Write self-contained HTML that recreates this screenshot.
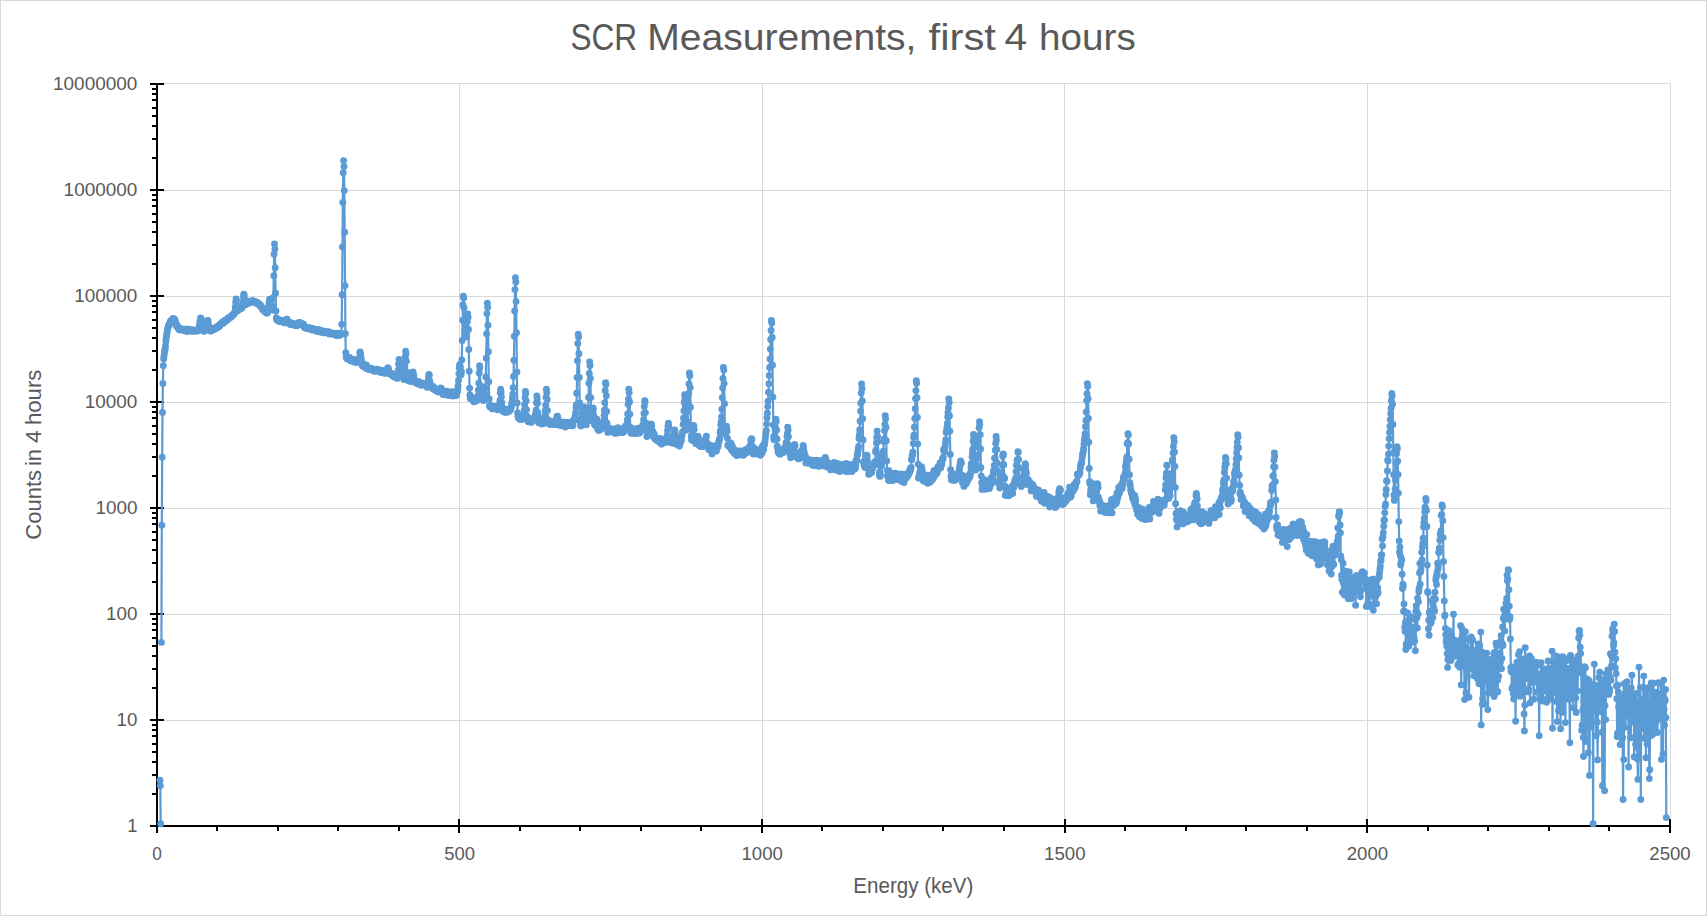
<!DOCTYPE html>
<html lang="en"><head><meta charset="utf-8"><title>SCR Measurements, first 4 hours</title>
<style>
html,body{margin:0;padding:0;background:#fff;overflow:hidden}
svg{display:block}
text{font-family:"Liberation Sans",Arial,sans-serif;fill:#595959}
.g{stroke:#d9d9d9;stroke-width:1;fill:none;shape-rendering:crispEdges}
.ax{stroke:#000;stroke-width:2;fill:none;shape-rendering:crispEdges}
.s{fill:none;stroke:#5b9bd5;stroke-width:2.2;stroke-linejoin:round;stroke-linecap:round;marker-start:url(#m);marker-mid:url(#m);marker-end:url(#m)}
.tl{font-size:17.6px}
.at{font-size:21.6px}
.tt{font-size:37.4px}
</style></head><body>
<svg width="1707" height="916" viewBox="0 0 1707 916">
<defs><marker id="m" markerUnits="userSpaceOnUse" markerWidth="8" markerHeight="8" refX="4" refY="4" viewBox="0 0 8 8"><circle cx="4" cy="4" r="3.45" fill="#5b9bd5"/></marker></defs>
<rect x="0" y="0" width="1707" height="916" fill="#fff"/>
<rect x="0.5" y="0.5" width="1706" height="915" fill="none" stroke="#d9d9d9" stroke-width="1" shape-rendering="crispEdges"/>
<path class="g" d="M157 83.5H1671M157 190.5H1671M157 296.5H1671M157 402.5H1671M157 508.5H1671M157 614.5H1671M157 720.5H1671M459.5 84V826M762.5 84V826M1064.5 84V826M1367.5 84V826M1670.5 84V826"/>
<path class="ax" d="M157 83V833M150 826H1671M150 84H164M152 158H157M152 139H157M152 126H157M152 116H157M152 108H157M152 100H157M152 94H157M152 89H157M150 190H164M152 264H157M152 245H157M152 232H157M152 222H157M152 214H157M152 206H157M152 200H157M152 195H157M150 296H164M152 370H157M152 351H157M152 338H157M152 328H157M152 320H157M152 312H157M152 306H157M152 301H157M150 402H164M152 476H157M152 457H157M152 444H157M152 434H157M152 426H157M152 418H157M152 412H157M152 407H157M150 508H164M152 582H157M152 563H157M152 550H157M152 540H157M152 532H157M152 524H157M152 518H157M152 513H157M150 614H164M152 688H157M152 669H157M152 656H157M152 646H157M152 638H157M152 630H157M152 624H157M152 619H157M150 720H164M152 794H157M152 775H157M152 762H157M152 752H157M152 744H157M152 736H157M152 730H157M152 725H157M150 826H164M157 819V833M217 826V831M278 826V831M338 826V831M399 826V831M459 819V833M520 826V831M580 826V831M641 826V831M701 826V831M762 819V833M822 826V831M883 826V831M943 826V831M1004 826V831M1065 819V833M1125 826V831M1186 826V831M1246 826V831M1307 826V831M1367 819V833M1428 826V831M1488 826V831M1549 826V831M1609 826V831M1670 819V833"/>
<polyline class="s" points="160.0,780.3 160.3,785.7 160.7,823.8"/>
<polyline class="s" points="161.4,642.4 161.8,525.3 162.2,457.2 162.5,412.4 162.9,383.5 163.3,365.8 163.7,358.9 164.0,355.9 164.4,353.0 164.8,350.7 165.1,349.2 165.5,346.3 165.9,341.3 166.2,338.2 166.6,335.4 167.0,332.8 167.3,330.8 167.7,328.8 168.1,327.2 168.5,326.0 168.8,325.8 169.2,324.4 169.6,324.2 169.9,323.0 170.3,321.7 170.7,321.6 171.0,321.2 171.4,320.6 171.8,320.2 172.1,320.9 172.5,319.4 172.9,318.6 173.3,318.7 173.6,319.1 174.0,319.0 174.4,320.2 174.7,319.8 175.1,321.2 175.5,321.9 175.8,323.2 176.2,325.0 176.6,326.3 177.0,325.5 177.3,327.1 177.7,326.3 178.1,327.8 178.4,327.9 178.8,328.8 179.2,329.2 179.5,329.9 179.9,329.1 180.3,329.5 180.6,329.0 181.0,329.2 181.4,329.6 181.8,329.8 182.1,329.9 182.5,329.0 182.9,329.5 183.2,329.5 183.6,330.0 184.0,329.8 184.3,329.6 184.7,330.7 185.1,329.5 185.4,329.6 185.8,329.2 186.2,329.4 186.6,329.3 186.9,331.5 187.3,330.5 187.7,330.6 188.0,330.7 188.4,329.3 188.8,329.8 189.1,330.2 189.5,330.3 189.9,329.9 190.3,330.6 190.6,331.1 191.0,330.1 191.4,330.0 191.7,331.2 192.1,330.0 192.5,330.6 192.8,330.6 193.2,330.5 193.6,330.3 193.9,330.9 194.3,330.1 194.7,331.1 195.1,330.4 195.4,330.5 195.8,330.7 196.2,330.5 196.5,331.1 196.9,331.0 197.3,329.9 197.6,330.5 198.0,330.6 198.4,330.2 198.8,329.8 199.1,327.0 199.5,324.9 199.9,322.1 200.2,320.3 200.6,317.9 201.0,318.6 201.3,320.3 201.7,324.3 202.1,327.8 202.4,330.2 202.8,329.7 203.2,330.0 203.6,331.2 203.9,329.9 204.3,330.6 204.7,329.9 205.0,330.9 205.4,329.8 205.8,329.3 206.1,329.5 206.5,328.4 206.9,325.6 207.2,322.1 207.6,320.4 208.0,320.9 208.4,323.7 208.7,326.7 209.1,327.6 209.5,329.9 209.8,329.7 210.2,329.4 210.6,331.0 210.9,330.9 211.3,330.2 211.7,329.8 212.1,329.2 212.4,329.4 212.8,329.6 213.2,329.6 213.5,328.9 213.9,328.3 214.3,329.1 214.6,328.9 215.0,328.9 215.4,327.6 215.7,328.4 216.1,328.1 216.5,327.8 216.9,327.2 217.2,327.3 217.6,326.4 218.0,327.2 218.3,326.7 218.7,326.0 219.1,326.8 219.4,325.3 219.8,325.5 220.2,324.2 220.5,324.1 220.9,323.9 221.3,323.7 221.7,323.8 222.0,323.0 222.4,322.3 222.8,322.9 223.1,322.9 223.5,322.8 223.9,321.8 224.2,321.9 224.6,321.1 225.0,320.2 225.4,320.9 225.7,320.1 226.1,320.1 226.5,319.9 226.8,320.5 227.2,319.5 227.6,318.9 227.9,318.6 228.3,318.5 228.7,317.6 229.0,318.1 229.4,317.7 229.8,317.4 230.2,317.6 230.5,317.3 230.9,316.4 231.3,316.4 231.6,316.2 232.0,315.5 232.4,315.4 232.7,315.1 233.1,314.6 233.5,314.6 233.9,314.2 234.2,313.4 234.6,312.8 235.0,311.6 235.3,307.3 235.7,302.4 236.1,298.9 236.4,300.4 236.8,305.0 237.2,308.9 237.5,310.4 237.9,310.6 238.3,309.7 238.7,309.7 239.0,309.2 239.4,309.3 239.8,309.1 240.1,308.3 240.5,308.1 240.9,308.3 241.2,308.2 241.6,307.3 242.0,307.9 242.3,306.3 242.7,305.8 243.1,301.9 243.5,297.0 243.8,294.1 244.2,295.0 244.6,299.3 244.9,303.0 245.3,304.3 245.7,304.2 246.0,304.6 246.4,303.7 246.8,303.1 247.2,303.3 247.5,302.9 247.9,303.1 248.3,302.8 248.6,302.7 249.0,302.9 249.4,302.7 249.7,301.3 250.1,302.4 250.5,301.9 250.8,301.8 251.2,301.9 251.6,301.8 252.0,301.4 252.3,300.9 252.7,300.6 253.1,301.1 253.4,301.3 253.8,301.3 254.2,302.2 254.5,301.4 254.9,302.0 255.3,302.1 255.6,301.7 256.0,302.7 256.4,302.5 256.8,302.5 257.1,303.3 257.5,303.8 257.9,303.9 258.2,303.3 258.6,303.7 259.0,304.1 259.3,305.0 259.7,304.7 260.1,305.7 260.5,305.2 260.8,306.2 261.2,306.5 261.6,307.4 261.9,307.8 262.3,309.0 262.7,308.6 263.0,309.6 263.4,309.9 263.8,310.6 264.1,310.7 264.5,311.3 264.9,311.2 265.3,311.5 265.6,311.8 266.0,312.4 266.4,312.6 266.7,313.0 267.1,313.1 267.5,312.8 267.8,311.3 268.2,309.0 268.6,306.5 269.0,303.1 269.3,300.9 269.7,299.3 270.1,300.5 270.4,301.3 270.8,303.9 271.2,305.8 271.5,305.4 271.9,306.4 272.3,308.0 272.6,310.0 273.0,309.8 273.4,297.5 273.8,275.7 274.1,254.2 274.5,244.0 274.9,249.1 275.2,267.8 275.6,293.2 276.0,310.9 276.3,318.0 276.7,319.6 277.1,319.9 277.4,319.7 277.8,320.6 278.2,319.4 278.6,320.5 278.9,319.9 279.3,321.5 279.7,321.0 280.0,320.0 280.4,321.2 280.8,320.9 281.1,321.1 281.5,321.3 281.9,320.9 282.3,320.9 282.6,321.1 283.0,321.0 283.4,321.7 283.7,321.8 284.1,322.4 284.5,322.9 284.8,322.6 285.2,322.3 285.6,322.1 285.9,321.4 286.3,320.4 286.7,319.1 287.1,319.3 287.4,321.4 287.8,322.6 288.2,322.9 288.5,322.3 288.9,322.9 289.3,323.1 289.6,322.8 290.0,324.2 290.4,322.8 290.7,323.0 291.1,324.6 291.5,324.0 291.9,323.7 292.2,323.7 292.6,323.8 293.0,324.4 293.3,323.5 293.7,323.6 294.1,324.7 294.4,324.7 294.8,324.9 295.2,325.4 295.6,324.6 295.9,324.8 296.3,325.5 296.7,325.5 297.0,324.8 297.4,325.2 297.8,325.1 298.1,323.8 298.5,323.6 298.9,322.6 299.2,322.6 299.6,322.5 300.0,323.1 300.4,324.5 300.7,324.7 301.1,324.1 301.5,324.8 301.8,324.0 302.2,324.0 302.6,324.3 302.9,324.0 303.3,324.5 303.7,325.0 304.1,325.4 304.4,327.4 304.8,326.9 305.2,327.8 305.5,327.6 305.9,328.2 306.3,327.4 306.6,327.5 307.0,328.1 307.4,327.7 307.7,328.8 308.1,327.8 308.5,327.7 308.9,328.7 309.2,328.7 309.6,328.5 310.0,328.5 310.3,328.7 310.7,328.4 311.1,328.2 311.4,329.1 311.8,328.1 312.2,329.7 312.5,330.1 312.9,329.2 313.3,329.9 313.7,329.6 314.0,329.4 314.4,329.5 314.8,329.3 315.1,329.6 315.5,329.9 315.9,330.0 316.2,330.2 316.6,331.2 317.0,330.4 317.4,330.7 317.7,331.0 318.1,329.4 318.5,330.7 318.8,331.0 319.2,331.1 319.6,331.2 319.9,330.2 320.3,330.7 320.7,331.4 321.0,332.2 321.4,331.3 321.8,331.3 322.2,331.2 322.5,331.1 322.9,331.6 323.3,332.3 323.6,332.3 324.0,332.7 324.4,331.3 324.7,332.8 325.1,332.2 325.5,332.4 325.9,332.2 326.2,332.6 326.6,331.9 327.0,332.3 327.3,332.0 327.7,332.8 328.1,332.6 328.4,331.8 328.8,333.5 329.2,333.8 329.5,333.0 329.9,333.9 330.3,332.8 330.7,333.9 331.0,333.3 331.4,332.9 331.8,333.6 332.1,333.6 332.5,333.4 332.9,333.9 333.2,333.5 333.6,333.8 334.0,334.0 334.3,334.1 334.7,334.5 335.1,334.5 335.5,334.4 335.8,333.3 336.2,335.2 336.6,335.5 336.9,334.9 337.3,334.7 337.7,334.7 338.0,333.3 338.4,333.9 338.8,334.8 339.2,334.8 339.5,335.3 339.9,334.1 340.3,334.9 340.6,334.5 341.0,333.5 341.4,333.4 341.7,324.2 342.1,294.8 342.5,246.9 342.8,202.5 343.2,172.8 343.6,160.6 344.0,166.5 344.3,190.6 344.7,232.2 345.1,285.6 345.4,333.7 345.8,352.8 346.2,357.5 346.5,356.4 346.9,358.8 347.3,357.9 347.6,357.8 348.0,358.4 348.4,358.2 348.8,358.2 349.1,358.2 349.5,357.4 349.9,360.1 350.2,359.9 350.6,359.6 351.0,360.9 351.3,359.2 351.7,360.9 352.1,360.2 352.5,360.3 352.8,360.6 353.2,359.5 353.6,361.3 353.9,361.8 354.3,359.8 354.7,361.4 355.0,361.3 355.4,362.2 355.8,362.3 356.1,361.7 356.5,360.5 356.9,362.0 357.3,361.8 357.6,361.2 358.0,361.4 358.4,361.0 358.7,361.8 359.1,360.0 359.5,357.7 359.8,353.0 360.2,352.0 360.6,354.2 361.0,357.8 361.3,359.9 361.7,362.6 362.1,365.4 362.4,364.2 362.8,364.5 363.2,364.5 363.5,366.7 363.9,364.4 364.3,365.6 364.6,364.7 365.0,366.5 365.4,366.2 365.8,366.5 366.1,368.4 366.5,365.3 366.9,367.3 367.2,368.2 367.6,368.1 368.0,368.3 368.3,369.1 368.7,369.0 369.1,369.6 369.4,369.3 369.8,368.4 370.2,369.6 370.6,368.3 370.9,369.2 371.3,369.1 371.7,369.1 372.0,369.3 372.4,369.9 372.8,370.1 373.1,369.3 373.5,371.1 373.9,369.1 374.3,370.2 374.6,371.1 375.0,369.8 375.4,370.1 375.7,369.6 376.1,369.6 376.5,371.3 376.8,370.0 377.2,369.3 377.6,369.8 377.9,370.0 378.3,370.8 378.7,370.4 379.1,370.3 379.4,370.9 379.8,371.1 380.2,371.0 380.5,371.6 380.9,372.4 381.3,370.2 381.6,372.4 382.0,372.4 382.4,372.5 382.7,371.7 383.1,372.2 383.5,372.2 383.9,372.9 384.2,372.3 384.6,371.5 385.0,373.3 385.3,372.2 385.7,372.3 386.1,372.9 386.4,371.3 386.8,372.3 387.2,370.4 387.6,368.4 387.9,367.6 388.3,368.6 388.7,370.7 389.0,373.1 389.4,373.5 389.8,373.1 390.1,373.7 390.5,373.3 390.9,373.7 391.2,373.5 391.6,374.1 392.0,374.9 392.4,375.5 392.7,375.2 393.1,374.3 393.5,376.0 393.8,376.8 394.2,374.2 394.6,375.6 394.9,376.4 395.3,376.7 395.7,376.9 396.1,377.5 396.4,376.4 396.8,377.6 397.2,378.4 397.5,376.9 397.9,373.0 398.3,370.2 398.6,364.1 399.0,359.5 399.4,362.0 399.7,366.9 400.1,373.7 400.5,376.1 400.9,375.7 401.2,373.6 401.6,368.3 402.0,364.7 402.3,365.4 402.7,371.1 403.1,375.4 403.4,377.8 403.8,379.6 404.2,377.2 404.5,372.9 404.9,366.6 405.3,357.0 405.7,351.1 406.0,354.1 406.4,361.2 406.8,371.9 407.1,377.1 407.5,379.8 407.9,379.1 408.2,380.5 408.6,379.9 409.0,380.5 409.4,380.0 409.7,380.6 410.1,380.5 410.5,381.2 410.8,381.4 411.2,380.8 411.6,380.7 411.9,378.7 412.3,377.5 412.7,374.5 413.0,372.0 413.4,374.1 413.8,375.6 414.2,379.1 414.5,380.3 414.9,381.7 415.3,381.9 415.6,382.0 416.0,381.4 416.4,383.2 416.7,382.6 417.1,382.0 417.5,382.8 417.8,381.7 418.2,384.1 418.6,383.2 419.0,381.8 419.3,382.7 419.7,383.8 420.1,382.6 420.4,384.2 420.8,383.7 421.2,385.2 421.5,383.8 421.9,384.0 422.3,384.1 422.7,384.0 423.0,383.3 423.4,384.3 423.8,383.7 424.1,383.6 424.5,383.9 424.9,384.1 425.2,385.3 425.6,385.0 426.0,384.5 426.3,384.2 426.7,384.6 427.1,387.2 427.5,385.1 427.8,384.1 428.2,380.8 428.6,376.9 428.9,374.4 429.3,375.2 429.7,381.0 430.0,383.1 430.4,385.7 430.8,386.4 431.2,387.4 431.5,386.3 431.9,388.1 432.3,387.4 432.6,386.1 433.0,388.1 433.4,389.0 433.7,387.5 434.1,388.0 434.5,389.4 434.8,388.4 435.2,389.2 435.6,390.0 436.0,389.7 436.3,390.7 436.7,390.7 437.1,391.0 437.4,391.1 437.8,389.5 438.2,392.0 438.5,390.8 438.9,390.3 439.3,391.2 439.6,391.3 440.0,391.8 440.4,390.6 440.8,388.0 441.1,388.7 441.5,389.0 441.9,390.3 442.2,390.5 442.6,392.5 443.0,394.4 443.3,392.4 443.7,393.5 444.1,393.2 444.5,394.5 444.8,394.5 445.2,392.0 445.6,391.9 445.9,394.1 446.3,393.5 446.7,391.2 447.0,394.0 447.4,395.2 447.8,393.2 448.1,392.8 448.5,394.3 448.9,392.3 449.3,394.4 449.6,392.2 450.0,395.6 450.4,393.8 450.7,394.1 451.1,392.8 451.5,395.3 451.8,395.3 452.2,391.7 452.6,395.2 452.9,396.1 453.3,393.8 453.7,394.6 454.1,394.4 454.4,395.3 454.8,395.6 455.2,393.6 455.5,395.4 455.9,395.0 456.3,395.2 456.6,394.9 457.0,391.9 457.4,391.5 457.8,389.0 458.1,385.8 458.5,380.4 458.9,373.9 459.2,368.1 459.6,364.7 460.0,365.8 460.3,367.6 460.7,373.2 461.1,374.7 461.4,371.6 461.8,359.9 462.2,340.4 462.6,320.2 462.9,305.0 463.3,296.2 463.7,298.0 464.0,307.9 464.4,321.6 464.8,330.9 465.1,331.2 465.5,327.9 465.9,329.6 466.3,334.9 466.6,336.7 467.0,330.9 467.4,321.4 467.7,314.0 468.1,317.3 468.5,329.5 468.8,349.5 469.2,371.3 469.6,388.3 469.9,394.9 470.3,398.5 470.7,397.5 471.1,397.1 471.4,398.8 471.8,397.5 472.2,398.9 472.5,399.1 472.9,398.1 473.3,399.0 473.6,401.7 474.0,400.1 474.4,400.7 474.7,399.2 475.1,401.0 475.5,399.4 475.9,399.5 476.2,401.1 476.6,400.1 477.0,399.0 477.3,399.3 477.7,399.5 478.1,395.5 478.4,390.1 478.8,383.3 479.2,372.9 479.6,365.7 479.9,367.8 480.3,387.2 480.7,387.2 481.0,390.3 481.4,389.9 481.8,386.5 482.1,388.9 482.5,393.4 482.9,398.3 483.2,400.6 483.6,400.3 484.0,399.6 484.4,398.9 484.7,397.7 485.1,394.4 485.5,388.4 485.8,377.0 486.2,358.3 486.6,333.7 486.9,313.6 487.3,303.1 487.7,307.2 488.0,325.2 488.4,351.8 488.8,381.8 489.2,398.9 489.5,405.5 489.9,407.1 490.3,406.0 490.6,406.8 491.0,406.3 491.4,405.7 491.7,406.3 492.1,406.6 492.5,408.9 492.9,407.2 493.2,406.4 493.6,408.0 494.0,408.4 494.3,407.9 494.7,408.1 495.1,408.8 495.4,406.6 495.8,407.0 496.2,407.3 496.5,408.6 496.9,409.0 497.3,409.6 497.7,409.8 498.0,407.2 498.4,407.3 498.8,407.1 499.1,405.7 499.5,404.4 499.9,400.4 500.2,393.1 500.6,389.2 501.0,391.9 501.4,396.8 501.7,402.8 502.1,407.1 502.5,408.9 502.8,411.3 503.2,409.0 503.6,409.2 503.9,411.5 504.3,409.6 504.7,410.2 505.0,409.9 505.4,412.6 505.8,409.3 506.2,409.5 506.5,410.5 506.9,410.0 507.3,410.9 507.6,410.4 508.0,412.1 508.4,410.2 508.7,411.0 509.1,410.8 509.5,410.5 509.8,410.6 510.2,409.4 510.6,409.6 511.0,407.6 511.3,406.6 511.7,404.1 512.1,402.3 512.4,398.1 512.8,394.3 513.2,387.7 513.5,376.4 513.9,360.3 514.3,336.3 514.7,310.9 515.0,289.6 515.4,277.6 515.8,281.9 516.1,301.6 516.5,332.7 516.9,371.9 517.2,402.9 517.6,413.0 518.0,416.1 518.3,417.2 518.7,417.9 519.1,418.5 519.5,416.4 519.8,417.2 520.2,419.4 520.6,418.0 520.9,419.2 521.3,418.8 521.7,417.8 522.0,418.8 522.4,419.2 522.8,417.9 523.1,417.3 523.5,414.9 523.9,415.6 524.3,410.1 524.6,404.8 525.0,397.6 525.4,391.4 525.7,393.5 526.1,400.9 526.5,409.6 526.8,416.0 527.2,419.6 527.6,419.0 528.0,421.4 528.3,421.5 528.7,418.8 529.1,420.3 529.4,418.6 529.8,420.6 530.2,419.4 530.5,419.5 530.9,419.3 531.3,422.4 531.6,419.2 532.0,421.1 532.4,420.2 532.8,419.4 533.1,419.0 533.5,420.1 533.9,418.9 534.2,419.0 534.6,417.8 535.0,416.1 535.3,416.0 535.7,413.7 536.1,410.3 536.5,402.7 536.8,396.0 537.2,398.6 537.6,403.2 537.9,412.7 538.3,417.3 538.7,422.8 539.0,422.6 539.4,419.5 539.8,421.9 540.1,420.6 540.5,420.3 540.9,422.4 541.3,423.1 541.6,424.0 542.0,420.8 542.4,420.8 542.7,420.1 543.1,419.8 543.5,418.8 543.8,423.5 544.2,420.2 544.6,419.9 544.9,415.4 545.3,410.6 545.7,405.3 546.1,397.5 546.4,389.2 546.8,392.4 547.2,399.5 547.5,410.6 547.9,419.7 548.3,422.0 548.6,423.5 549.0,423.3 549.4,423.2 549.8,422.4 550.1,424.6 550.5,422.8 550.9,423.3 551.2,423.0 551.6,421.8 552.0,423.7 552.3,421.9 552.7,422.0 553.1,424.3 553.4,421.9 553.8,424.0 554.2,423.9 554.6,423.2 554.9,424.2 555.3,424.0 555.7,424.6 556.0,423.1 556.4,419.7 556.8,418.6 557.1,416.5 557.5,416.3 557.9,418.2 558.2,421.2 558.6,423.4 559.0,422.7 559.4,425.2 559.7,423.9 560.1,422.7 560.5,422.1 560.8,423.0 561.2,424.1 561.6,423.3 561.9,425.7 562.3,423.6 562.7,422.3 563.1,425.2 563.4,423.3 563.8,424.4 564.2,424.1 564.5,423.3 564.9,423.7 565.3,427.0 565.6,422.2 566.0,422.5 566.4,424.2 566.7,425.2 567.1,425.7 567.5,424.6 567.9,425.1 568.2,424.2 568.6,424.3 569.0,424.3 569.3,425.2 569.7,422.1 570.1,423.2 570.4,423.5 570.8,422.8 571.2,424.8 571.6,425.7 571.9,425.3 572.3,423.1 572.7,423.0 573.0,425.4 573.4,420.7 573.8,420.5 574.1,419.8 574.5,419.8 574.9,417.8 575.2,415.6 575.6,413.0 576.0,407.8 576.4,404.8 576.7,393.3 577.1,377.5 577.5,360.8 577.8,343.5 578.2,334.2 578.6,337.0 578.9,353.8 579.3,377.4 579.7,402.9 580.0,419.8 580.4,422.7 580.8,425.9 581.2,425.3 581.5,424.4 581.9,421.7 582.3,423.4 582.6,420.4 583.0,419.2 583.4,415.5 583.7,411.7 584.1,406.9 584.5,408.6 584.9,415.0 585.2,418.1 585.6,422.1 586.0,422.4 586.3,424.7 586.7,418.5 587.1,416.9 587.4,417.4 587.8,411.3 588.2,408.2 588.5,397.5 588.9,383.3 589.3,373.4 589.7,361.9 590.0,365.5 590.4,378.4 590.8,397.6 591.1,412.9 591.5,420.6 591.9,420.2 592.2,416.6 592.6,412.0 593.0,407.9 593.3,409.3 593.7,415.2 594.1,421.2 594.5,423.9 594.8,425.0 595.2,425.0 595.6,423.1 595.9,419.4 596.3,419.8 596.7,419.1 597.0,422.8 597.4,426.9 597.8,429.6 598.2,429.7 598.5,428.9 598.9,430.6 599.3,427.7 599.6,427.4 600.0,427.6 600.4,427.2 600.7,429.2 601.1,429.1 601.5,428.5 601.8,425.7 602.2,426.8 602.6,424.5 603.0,424.9 603.3,422.5 603.7,420.6 604.1,415.5 604.4,410.2 604.8,402.7 605.2,390.4 605.5,382.7 605.9,384.5 606.3,395.7 606.7,411.4 607.0,423.3 607.4,429.2 607.8,432.4 608.1,427.4 608.5,429.3 608.9,431.3 609.2,429.4 609.6,428.5 610.0,431.3 610.3,429.7 610.7,431.1 611.1,430.6 611.5,430.3 611.8,430.0 612.2,430.6 612.6,430.7 612.9,432.1 613.3,429.0 613.7,430.6 614.0,429.8 614.4,431.7 614.8,431.0 615.1,433.4 615.5,430.4 615.9,432.9 616.3,430.4 616.6,431.1 617.0,428.6 617.4,429.7 617.7,432.4 618.1,427.7 618.5,430.7 618.8,431.1 619.2,431.7 619.6,432.8 620.0,431.0 620.3,430.2 620.7,431.3 621.1,431.1 621.4,429.3 621.8,430.8 622.2,432.5 622.5,432.6 622.9,429.9 623.3,431.9 623.6,430.4 624.0,428.9 624.4,429.5 624.8,429.1 625.1,426.5 625.5,430.2 625.9,426.3 626.2,425.9 626.6,426.0 627.0,424.9 627.3,420.0 627.7,413.9 628.1,404.3 628.5,398.9 628.8,389.2 629.2,392.7 629.6,401.8 629.9,414.1 630.3,427.4 630.7,429.5 631.0,433.2 631.4,431.8 631.8,429.2 632.1,428.8 632.5,431.7 632.9,431.3 633.3,432.9 633.6,430.5 634.0,429.0 634.4,433.5 634.7,429.7 635.1,430.9 635.5,432.5 635.8,429.7 636.2,429.6 636.6,432.0 636.9,433.4 637.3,430.5 637.7,431.5 638.1,428.3 638.4,430.0 638.8,430.0 639.2,430.9 639.5,433.1 639.9,429.3 640.3,431.8 640.6,429.6 641.0,430.3 641.4,429.6 641.8,429.6 642.1,427.8 642.5,426.6 642.9,425.3 643.2,424.7 643.6,419.8 644.0,413.4 644.3,406.4 644.7,400.8 645.1,402.0 645.4,412.6 645.8,422.9 646.2,429.6 646.6,431.1 646.9,436.5 647.3,433.8 647.7,433.5 648.0,432.6 648.4,431.7 648.8,432.8 649.1,431.3 649.5,430.6 649.9,430.3 650.2,426.8 650.6,424.7 651.0,424.0 651.4,424.7 651.7,425.5 652.1,430.4 652.5,431.3 652.8,433.0 653.2,433.8 653.6,437.3 653.9,434.9 654.3,434.2 654.7,438.3 655.1,438.5 655.4,438.8 655.8,439.8 656.2,439.3 656.5,439.5 656.9,438.2 657.3,440.2 657.6,440.7 658.0,439.3 658.4,441.0 658.7,440.6 659.1,440.8 659.5,441.5 659.9,442.5 660.2,438.5 660.6,442.4 661.0,441.7 661.3,444.1 661.7,443.9 662.1,440.6 662.4,442.1 662.8,442.8 663.2,440.3 663.6,441.9 663.9,439.5 664.3,442.0 664.7,442.1 665.0,442.4 665.4,439.7 665.8,440.4 666.1,439.2 666.5,439.6 666.9,439.5 667.2,435.3 667.6,430.5 668.0,426.3 668.4,423.1 668.7,425.5 669.1,428.1 669.5,438.0 669.8,439.8 670.2,442.5 670.6,440.9 670.9,439.9 671.3,442.2 671.7,441.7 672.0,441.3 672.4,440.7 672.8,443.2 673.2,440.3 673.5,437.7 673.9,436.1 674.3,434.0 674.6,429.9 675.0,431.5 675.4,435.5 675.7,436.6 676.1,442.9 676.5,444.0 676.9,441.2 677.2,441.6 677.6,444.7 678.0,441.7 678.3,444.7 678.7,445.0 679.1,442.8 679.4,446.0 679.8,444.4 680.2,442.4 680.5,439.8 680.9,440.9 681.3,440.2 681.7,436.6 682.0,434.4 682.4,433.1 682.8,431.8 683.1,424.2 683.5,418.1 683.9,410.7 684.2,402.3 684.6,394.8 685.0,398.4 685.3,405.8 685.7,418.9 686.1,427.6 686.5,430.1 686.8,429.3 687.2,426.5 687.6,422.0 687.9,411.3 688.3,404.6 688.7,393.5 689.0,383.9 689.4,372.9 689.8,375.8 690.2,387.7 690.5,407.3 690.9,428.9 691.3,436.0 691.6,439.7 692.0,440.3 692.4,437.7 692.7,431.6 693.1,428.4 693.5,425.5 693.8,426.2 694.2,429.6 694.6,438.2 695.0,441.3 695.3,440.5 695.7,443.6 696.1,441.7 696.4,441.8 696.8,438.8 697.2,439.1 697.5,436.9 697.9,436.3 698.3,437.7 698.7,444.0 699.0,444.0 699.4,445.7 699.8,443.5 700.1,445.7 700.5,443.0 700.9,446.5 701.2,445.5 701.6,445.2 702.0,446.0 702.3,445.7 702.7,443.3 703.1,443.8 703.5,443.8 703.8,446.6 704.2,441.0 704.6,443.1 704.9,444.4 705.3,439.9 705.7,441.9 706.0,437.5 706.4,436.2 706.8,442.7 707.1,445.2 707.5,446.6 707.9,445.9 708.3,445.0 708.6,446.3 709.0,449.8 709.4,444.9 709.7,447.4 710.1,446.5 710.5,448.4 710.8,448.4 711.2,446.3 711.6,448.5 712.0,453.9 712.3,448.2 712.7,445.9 713.1,448.1 713.4,450.8 713.8,448.1 714.2,446.3 714.5,446.4 714.9,448.1 715.3,447.4 715.6,449.7 716.0,446.5 716.4,451.1 716.8,447.0 717.1,446.0 717.5,445.2 717.9,447.0 718.2,445.0 718.6,442.6 719.0,441.1 719.3,440.0 719.7,438.2 720.1,432.7 720.4,430.6 720.8,424.7 721.2,421.9 721.6,416.7 721.9,409.2 722.3,397.8 722.7,388.0 723.0,378.4 723.4,367.4 723.8,370.0 724.1,383.6 724.5,403.7 724.9,427.0 725.3,433.0 725.6,434.4 726.0,430.1 726.4,426.3 726.7,429.3 727.1,431.6 727.5,438.4 727.8,445.1 728.2,445.8 728.6,446.0 728.9,445.8 729.3,443.9 729.7,446.7 730.1,447.1 730.4,445.3 730.8,442.9 731.2,447.3 731.5,449.9 731.9,445.6 732.3,446.6 732.6,450.6 733.0,448.2 733.4,451.7 733.8,452.6 734.1,450.5 734.5,453.5 734.9,451.9 735.2,452.6 735.6,450.5 736.0,453.0 736.3,453.6 736.7,455.6 737.1,453.4 737.4,451.3 737.8,453.9 738.2,451.8 738.6,454.7 738.9,451.9 739.3,454.8 739.7,452.7 740.0,450.9 740.4,453.4 740.8,452.2 741.1,452.0 741.5,451.8 741.9,454.1 742.2,452.2 742.6,454.9 743.0,453.0 743.4,455.2 743.7,450.8 744.1,453.2 744.5,451.9 744.8,452.4 745.2,452.4 745.6,450.4 745.9,449.4 746.3,453.1 746.7,450.8 747.1,450.9 747.4,449.4 747.8,451.3 748.2,451.7 748.5,448.7 748.9,449.6 749.3,449.0 749.6,446.4 750.0,447.6 750.4,445.2 750.7,440.1 751.1,443.9 751.5,438.8 751.9,439.5 752.2,446.1 752.6,448.5 753.0,452.6 753.3,454.1 753.7,452.0 754.1,451.7 754.4,452.2 754.8,448.4 755.2,453.5 755.5,452.1 755.9,453.0 756.3,453.0 756.7,453.2 757.0,453.9 757.4,452.8 757.8,451.8 758.1,452.2 758.5,449.6 758.9,451.2 759.2,453.3 759.6,450.4 760.0,452.5 760.4,455.3 760.7,454.5 761.1,452.6 761.5,451.8 761.8,451.0 762.2,453.0 762.6,446.3 762.9,445.7 763.3,447.5 763.7,449.5 764.0,445.7 764.4,444.6 764.8,442.4 765.2,439.8 765.5,436.0 765.9,432.7 766.3,430.5 766.6,424.1 767.0,417.9 767.4,413.2 767.7,406.6 768.1,401.2 768.5,392.2 768.9,383.8 769.2,375.5 769.6,367.4 770.0,359.0 770.3,349.1 770.7,339.4 771.1,330.5 771.4,320.5 771.8,323.0 772.2,337.5 772.5,365.2 772.9,397.1 773.3,424.9 773.7,436.5 774.0,439.7 774.4,437.1 774.8,436.5 775.1,429.9 775.5,428.0 775.9,419.3 776.2,421.7 776.6,430.2 777.0,438.9 777.3,446.2 777.7,448.8 778.1,452.1 778.5,452.8 778.8,452.4 779.2,451.8 779.6,449.5 779.9,454.3 780.3,452.8 780.7,451.6 781.0,453.6 781.4,451.9 781.8,451.7 782.2,452.5 782.5,451.5 782.9,449.5 783.3,452.5 783.6,449.4 784.0,450.1 784.4,449.1 784.7,450.5 785.1,447.2 785.5,448.9 785.8,446.8 786.2,443.0 786.6,442.1 787.0,436.3 787.3,434.0 787.7,427.1 788.1,429.9 788.4,436.8 788.8,445.1 789.2,449.4 789.5,451.0 789.9,453.8 790.3,452.2 790.6,457.7 791.0,456.2 791.4,456.8 791.8,452.7 792.1,453.1 792.5,454.3 792.9,455.7 793.2,454.5 793.6,450.3 794.0,448.4 794.3,446.2 794.7,444.4 795.1,445.5 795.5,452.2 795.8,456.1 796.2,457.0 796.6,455.2 796.9,454.3 797.3,456.5 797.7,457.7 798.0,458.2 798.4,458.9 798.8,458.6 799.1,456.2 799.5,458.2 799.9,455.7 800.3,453.8 800.6,456.9 801.0,457.1 801.4,451.3 801.7,454.3 802.1,455.4 802.5,449.4 802.8,449.4 803.2,445.5 803.6,448.2 804.0,452.8 804.3,452.7 804.7,457.4 805.1,457.7 805.4,456.1 805.8,462.9 806.2,459.8 806.5,461.1 806.9,461.7 807.3,462.8 807.6,462.2 808.0,463.0 808.4,460.1 808.8,461.0 809.1,462.0 809.5,459.6 809.9,461.4 810.2,462.7 810.6,462.8 811.0,460.9 811.3,460.9 811.7,464.6 812.1,463.0 812.4,464.1 812.8,460.3 813.2,465.6 813.6,461.4 813.9,462.8 814.3,462.4 814.7,460.6 815.0,464.9 815.4,464.1 815.8,461.6 816.1,462.8 816.5,465.8 816.9,460.3 817.3,463.6 817.6,463.2 818.0,465.3 818.4,463.1 818.7,460.7 819.1,466.3 819.5,463.6 819.8,463.8 820.2,464.6 820.6,460.7 820.9,463.2 821.3,465.0 821.7,463.7 822.1,461.4 822.4,464.8 822.8,464.6 823.2,465.0 823.5,461.6 823.9,465.9 824.3,459.3 824.6,460.0 825.0,459.6 825.4,457.5 825.7,460.5 826.1,463.9 826.5,460.8 826.9,466.9 827.2,464.9 827.6,466.0 828.0,463.1 828.3,466.1 828.7,466.2 829.1,467.1 829.4,464.9 829.8,463.5 830.2,465.0 830.6,469.9 830.9,465.6 831.3,465.1 831.7,464.2 832.0,464.5 832.4,467.9 832.8,467.0 833.1,464.6 833.5,465.0 833.9,465.9 834.2,462.5 834.6,466.8 835.0,467.9 835.4,466.0 835.7,470.1 836.1,465.5 836.5,467.3 836.8,465.1 837.2,463.5 837.6,467.3 837.9,467.9 838.3,468.3 838.7,468.2 839.1,465.6 839.4,471.6 839.8,468.7 840.2,468.6 840.5,469.1 840.9,464.4 841.3,466.8 841.6,471.0 842.0,465.0 842.4,466.2 842.7,465.1 843.1,467.4 843.5,465.6 843.9,468.3 844.2,467.1 844.6,467.4 845.0,466.4 845.3,468.2 845.7,468.5 846.1,463.8 846.4,463.8 846.8,471.7 847.2,469.4 847.5,468.9 847.9,467.5 848.3,471.4 848.7,468.4 849.0,465.8 849.4,468.4 849.8,468.9 850.1,469.4 850.5,465.8 850.9,464.5 851.2,468.8 851.6,469.5 852.0,471.5 852.4,470.1 852.7,466.5 853.1,468.0 853.5,468.3 853.8,467.8 854.2,468.9 854.6,468.0 854.9,468.1 855.3,468.4 855.7,465.5 856.0,460.7 856.4,460.2 856.8,460.7 857.2,455.5 857.5,454.4 857.9,451.5 858.3,449.1 858.6,446.5 859.0,438.4 859.4,434.8 859.7,430.0 860.1,421.2 860.5,411.1 860.8,403.3 861.2,393.0 861.6,384.0 862.0,388.4 862.3,400.9 862.7,418.8 863.1,440.0 863.4,461.6 863.8,463.9 864.2,465.0 864.5,465.0 864.9,467.5 865.3,463.5 865.7,462.2 866.0,464.2 866.4,456.1 866.8,455.3 867.1,456.2 867.5,460.7 867.9,466.4 868.2,469.2 868.6,474.2 869.0,469.1 869.3,473.9 869.7,473.1 870.1,467.5 870.5,468.9 870.8,468.1 871.2,471.3 871.6,472.5 871.9,467.4 872.3,469.5 872.7,465.6 873.0,466.7 873.4,465.8 873.8,463.4 874.2,465.1 874.5,464.7 874.9,462.5 875.3,461.5 875.6,452.0 876.0,450.0 876.4,443.1 876.7,437.4 877.1,431.3 877.5,436.4 877.8,441.7 878.2,454.8 878.6,463.2 879.0,464.6 879.3,475.0 879.7,471.7 880.1,476.4 880.4,474.8 880.8,466.6 881.2,463.3 881.5,465.7 881.9,458.1 882.3,459.5 882.6,458.0 883.0,456.5 883.4,451.1 883.8,441.6 884.1,438.9 884.5,430.6 884.9,424.5 885.2,415.6 885.6,418.9 886.0,427.4 886.3,440.8 886.7,460.9 887.1,470.6 887.5,475.9 887.8,476.3 888.2,475.5 888.6,480.5 888.9,470.6 889.3,479.7 889.7,477.0 890.0,474.9 890.4,477.9 890.8,476.1 891.1,480.2 891.5,475.5 891.9,477.1 892.3,478.1 892.6,480.5 893.0,475.4 893.4,475.5 893.7,473.4 894.1,477.0 894.5,479.3 894.8,477.6 895.2,473.1 895.6,476.6 895.9,476.7 896.3,479.6 896.7,475.6 897.1,474.3 897.4,478.6 897.8,474.7 898.2,479.0 898.5,478.1 898.9,479.6 899.3,476.3 899.6,479.0 900.0,473.9 900.4,477.3 900.8,478.8 901.1,479.6 901.5,481.6 901.9,479.0 902.2,477.9 902.6,479.2 903.0,476.9 903.3,478.2 903.7,474.2 904.1,482.5 904.4,478.4 904.8,476.1 905.2,475.3 905.6,476.4 905.9,477.1 906.3,478.0 906.7,476.3 907.0,475.6 907.4,475.1 907.8,476.0 908.1,474.0 908.5,474.5 908.9,472.0 909.3,472.4 909.6,472.2 910.0,469.1 910.4,470.3 910.7,469.4 911.1,467.4 911.5,459.8 911.8,458.9 912.2,455.2 912.6,455.2 912.9,452.1 913.3,443.5 913.7,437.3 914.1,435.0 914.4,427.2 914.8,418.5 915.2,408.7 915.5,398.6 915.9,390.6 916.3,380.7 916.6,383.3 917.0,397.7 917.4,417.5 917.7,443.9 918.1,464.1 918.5,477.9 918.9,476.7 919.2,478.0 919.6,472.8 920.0,474.9 920.3,474.4 920.7,471.7 921.1,467.7 921.4,466.7 921.8,468.9 922.2,470.5 922.6,475.9 922.9,477.3 923.3,480.7 923.7,474.5 924.0,477.8 924.4,479.8 924.8,481.6 925.1,479.6 925.5,480.8 925.9,478.6 926.2,479.5 926.6,476.6 927.0,479.9 927.4,475.2 927.7,483.2 928.1,479.3 928.5,479.5 928.8,480.4 929.2,479.8 929.6,478.5 929.9,477.7 930.3,482.0 930.7,478.4 931.1,477.8 931.4,477.9 931.8,480.3 932.2,479.3 932.5,478.2 932.9,473.6 933.3,478.5 933.6,477.0 934.0,470.8 934.4,472.5 934.7,474.0 935.1,475.1 935.5,470.4 935.9,471.9 936.2,474.2 936.6,471.6 937.0,470.5 937.3,472.2 937.7,467.2 938.1,469.7 938.4,467.4 938.8,468.7 939.2,467.1 939.5,466.7 939.9,463.3 940.3,464.5 940.7,467.8 941.0,463.8 941.4,465.0 941.8,464.0 942.1,460.5 942.5,458.8 942.9,459.4 943.2,457.4 943.6,449.4 944.0,450.8 944.4,451.9 944.7,449.3 945.1,446.4 945.5,443.3 945.8,439.6 946.2,432.4 946.6,430.9 946.9,427.6 947.3,423.5 947.7,417.0 948.0,412.4 948.4,407.8 948.8,398.9 949.2,402.5 949.5,416.0 949.9,431.1 950.3,454.5 950.6,469.8 951.0,476.0 951.4,479.6 951.7,480.0 952.1,477.8 952.5,477.3 952.8,480.0 953.2,476.9 953.6,477.9 954.0,474.1 954.3,474.4 954.7,480.4 955.1,479.2 955.4,478.0 955.8,478.6 956.2,478.7 956.5,479.2 956.9,475.7 957.3,474.9 957.7,476.8 958.0,477.1 958.4,474.6 958.8,475.1 959.1,470.4 959.5,467.8 959.9,465.7 960.2,463.3 960.6,460.9 961.0,463.1 961.3,463.1 961.7,474.9 962.1,476.2 962.5,482.8 962.8,479.0 963.2,481.9 963.6,478.0 963.9,486.4 964.3,479.5 964.7,481.1 965.0,484.4 965.4,480.7 965.8,483.1 966.2,483.7 966.5,476.4 966.9,481.3 967.3,478.6 967.6,480.8 968.0,475.9 968.4,479.4 968.7,475.9 969.1,477.2 969.5,477.5 969.8,474.5 970.2,476.0 970.6,473.0 971.0,467.7 971.3,463.8 971.7,463.9 972.1,456.9 972.4,452.7 972.8,449.1 973.2,441.2 973.5,434.4 973.9,437.0 974.3,444.2 974.6,454.9 975.0,464.0 975.4,469.4 975.8,470.0 976.1,467.9 976.5,465.9 976.9,465.5 977.2,458.7 977.6,455.5 978.0,446.9 978.3,441.3 978.7,436.0 979.1,427.7 979.5,421.6 979.8,424.4 980.2,434.7 980.6,449.0 980.9,467.6 981.3,476.3 981.7,482.4 982.0,489.4 982.4,485.5 982.8,482.5 983.1,484.5 983.5,487.3 983.9,487.6 984.3,486.9 984.6,479.7 985.0,486.5 985.4,485.1 985.7,489.2 986.1,488.6 986.5,485.4 986.8,483.2 987.2,486.2 987.6,482.3 987.9,482.9 988.3,484.6 988.7,485.4 989.1,488.2 989.4,488.6 989.8,486.2 990.2,482.4 990.5,484.5 990.9,478.5 991.3,481.0 991.6,483.6 992.0,477.3 992.4,479.2 992.8,479.5 993.1,475.2 993.5,471.0 993.9,471.0 994.2,465.5 994.6,458.2 995.0,458.1 995.3,450.2 995.7,443.4 996.1,436.4 996.4,440.3 996.8,449.4 997.2,463.0 997.6,470.8 997.9,482.0 998.3,483.0 998.7,483.3 999.0,483.3 999.4,482.6 999.8,487.9 1000.1,481.1 1000.5,485.2 1000.9,479.3 1001.3,476.9 1001.6,476.3 1002.0,474.1 1002.4,465.1 1002.7,456.2 1003.1,454.0 1003.5,454.7 1003.8,464.8 1004.2,477.4 1004.6,478.7 1004.9,486.3 1005.3,495.4 1005.7,495.0 1006.1,494.2 1006.4,490.8 1006.8,490.5 1007.2,492.4 1007.5,495.2 1007.9,494.5 1008.3,493.0 1008.6,489.0 1009.0,495.8 1009.4,488.3 1009.7,494.7 1010.1,488.9 1010.5,489.7 1010.9,492.0 1011.2,489.7 1011.6,487.9 1012.0,492.5 1012.3,486.2 1012.7,493.6 1013.1,487.3 1013.4,485.5 1013.8,487.8 1014.2,484.6 1014.6,481.1 1014.9,483.2 1015.3,480.0 1015.7,477.9 1016.0,471.6 1016.4,465.6 1016.8,464.4 1017.1,460.2 1017.5,459.8 1017.9,451.7 1018.2,452.4 1018.6,459.5 1019.0,467.7 1019.4,477.6 1019.7,481.6 1020.1,483.7 1020.5,484.7 1020.8,481.2 1021.2,486.5 1021.6,483.2 1021.9,480.7 1022.3,485.3 1022.7,478.6 1023.0,483.8 1023.4,476.6 1023.8,480.6 1024.2,469.6 1024.5,472.4 1024.9,466.4 1025.3,463.8 1025.6,465.6 1026.0,470.9 1026.4,473.6 1026.7,479.1 1027.1,480.8 1027.5,480.6 1027.9,484.8 1028.2,479.7 1028.6,484.0 1029.0,483.2 1029.3,482.5 1029.7,482.0 1030.1,485.1 1030.4,485.4 1030.8,485.7 1031.2,490.9 1031.5,490.6 1031.9,487.7 1032.3,484.6 1032.7,484.8 1033.0,485.8 1033.4,488.5 1033.8,490.5 1034.1,489.5 1034.5,489.1 1034.9,488.4 1035.2,489.4 1035.6,492.6 1036.0,492.8 1036.4,496.2 1036.7,492.0 1037.1,491.0 1037.5,491.5 1037.8,495.8 1038.2,495.1 1038.6,490.3 1038.9,496.9 1039.3,492.9 1039.7,494.0 1040.0,492.3 1040.4,496.9 1040.8,498.4 1041.2,499.8 1041.5,501.3 1041.9,496.4 1042.3,497.4 1042.6,498.4 1043.0,500.6 1043.4,497.1 1043.7,501.2 1044.1,492.5 1044.5,502.3 1044.8,503.2 1045.2,496.4 1045.6,499.3 1046.0,497.5 1046.3,496.7 1046.7,502.3 1047.1,501.0 1047.4,499.4 1047.8,500.8 1048.2,496.8 1048.5,500.0 1048.9,497.9 1049.3,504.0 1049.7,507.0 1050.0,497.7 1050.4,504.8 1050.8,501.1 1051.1,501.6 1051.5,503.6 1051.9,504.8 1052.2,500.2 1052.6,501.7 1053.0,501.1 1053.3,502.7 1053.7,502.1 1054.1,502.1 1054.5,499.1 1054.8,503.9 1055.2,507.5 1055.6,500.4 1055.9,506.3 1056.3,499.6 1056.7,505.7 1057.0,501.0 1057.4,505.1 1057.8,500.5 1058.1,499.9 1058.5,496.1 1058.9,491.9 1059.3,491.3 1059.6,488.7 1060.0,489.4 1060.4,490.5 1060.7,498.1 1061.1,497.5 1061.5,502.0 1061.8,500.3 1062.2,498.2 1062.6,504.6 1063.0,503.8 1063.3,498.2 1063.7,499.6 1064.1,503.6 1064.4,501.3 1064.8,501.2 1065.2,500.7 1065.5,501.6 1065.9,499.3 1066.3,500.6 1066.6,497.0 1067.0,498.5 1067.4,495.0 1067.8,498.8 1068.1,497.0 1068.5,497.2 1068.9,492.0 1069.2,492.6 1069.6,487.3 1070.0,497.3 1070.3,495.0 1070.7,491.9 1071.1,496.5 1071.5,490.9 1071.8,490.6 1072.2,492.3 1072.6,489.1 1072.9,490.2 1073.3,490.7 1073.7,488.6 1074.0,484.7 1074.4,487.2 1074.8,485.1 1075.1,488.1 1075.5,485.7 1075.9,482.6 1076.3,482.6 1076.6,481.4 1077.0,481.2 1077.4,474.4 1077.7,473.9 1078.1,474.9 1078.5,475.6 1078.8,474.2 1079.2,473.4 1079.6,474.1 1079.9,472.4 1080.3,468.3 1080.7,465.5 1081.1,463.5 1081.4,463.1 1081.8,461.6 1082.2,457.2 1082.5,454.4 1082.9,453.7 1083.3,451.5 1083.6,448.6 1084.0,444.2 1084.4,440.3 1084.8,438.3 1085.1,433.7 1085.5,426.7 1085.9,420.5 1086.2,412.0 1086.6,400.6 1087.0,393.7 1087.3,383.6 1087.7,386.4 1088.1,398.8 1088.4,418.5 1088.8,442.2 1089.2,468.5 1089.6,481.8 1089.9,483.7 1090.3,494.7 1090.7,490.2 1091.0,492.2 1091.4,487.9 1091.8,483.3 1092.1,491.9 1092.5,492.7 1092.9,488.8 1093.2,500.9 1093.6,491.6 1094.0,491.2 1094.4,493.8 1094.7,496.6 1095.1,494.0 1095.5,488.5 1095.8,493.5 1096.2,492.9 1096.6,490.6 1096.9,485.5 1097.3,483.8 1097.7,484.5 1098.1,487.5 1098.4,497.2 1098.8,501.3 1099.2,500.7 1099.5,501.4 1099.9,505.4 1100.3,505.2 1100.6,511.1 1101.0,507.1 1101.4,506.4 1101.7,504.6 1102.1,505.9 1102.5,510.4 1102.9,507.6 1103.2,506.8 1103.6,508.0 1104.0,506.0 1104.3,507.7 1104.7,509.4 1105.1,512.5 1105.4,507.4 1105.8,510.2 1106.2,509.9 1106.6,506.8 1106.9,507.8 1107.3,512.1 1107.7,506.5 1108.0,512.7 1108.4,508.3 1108.8,506.0 1109.1,505.5 1109.5,510.1 1109.9,512.4 1110.2,505.6 1110.6,508.6 1111.0,507.5 1111.4,499.8 1111.7,505.0 1112.1,512.9 1112.5,501.5 1112.8,499.6 1113.2,503.0 1113.6,505.4 1113.9,504.6 1114.3,501.4 1114.7,498.2 1115.0,499.4 1115.4,499.4 1115.8,498.4 1116.2,503.4 1116.5,501.6 1116.9,493.2 1117.3,499.3 1117.6,497.5 1118.0,492.4 1118.4,494.4 1118.7,487.4 1119.1,491.1 1119.5,493.0 1119.9,487.5 1120.2,487.4 1120.6,488.8 1121.0,488.2 1121.3,484.9 1121.7,488.4 1122.1,488.6 1122.4,483.1 1122.8,485.2 1123.2,480.2 1123.5,477.8 1123.9,476.7 1124.3,478.4 1124.7,476.6 1125.0,473.9 1125.4,466.5 1125.8,470.5 1126.1,462.8 1126.5,460.0 1126.9,456.9 1127.2,443.7 1127.6,442.6 1128.0,433.7 1128.3,435.0 1128.7,444.0 1129.1,459.3 1129.5,474.7 1129.8,482.8 1130.2,485.2 1130.6,489.0 1130.9,490.6 1131.3,492.8 1131.7,493.5 1132.0,493.5 1132.4,497.8 1132.8,496.2 1133.2,495.8 1133.5,499.9 1133.9,498.1 1134.3,502.3 1134.6,495.4 1135.0,505.0 1135.4,498.8 1135.7,500.8 1136.1,506.1 1136.5,509.7 1136.8,507.8 1137.2,508.5 1137.6,514.2 1138.0,510.1 1138.3,510.3 1138.7,511.7 1139.1,507.8 1139.4,516.8 1139.8,512.3 1140.2,513.4 1140.5,516.5 1140.9,515.3 1141.3,513.0 1141.7,517.7 1142.0,518.5 1142.4,509.3 1142.8,514.9 1143.1,513.4 1143.5,515.0 1143.9,513.2 1144.2,513.8 1144.6,514.8 1145.0,514.3 1145.3,519.6 1145.7,519.5 1146.1,518.0 1146.5,515.7 1146.8,517.0 1147.2,512.1 1147.6,515.2 1147.9,511.8 1148.3,514.2 1148.7,515.0 1149.0,507.7 1149.4,513.1 1149.8,519.0 1150.1,513.6 1150.5,507.3 1150.9,507.7 1151.3,509.6 1151.6,510.7 1152.0,507.7 1152.4,512.0 1152.7,507.6 1153.1,505.2 1153.5,501.5 1153.8,510.7 1154.2,506.9 1154.6,504.5 1155.0,506.3 1155.3,504.1 1155.7,503.9 1156.1,502.9 1156.4,502.1 1156.8,502.3 1157.2,501.1 1157.5,503.7 1157.9,499.2 1158.3,504.3 1158.6,508.3 1159.0,513.4 1159.4,507.8 1159.8,503.9 1160.1,508.4 1160.5,505.6 1160.9,504.3 1161.2,505.6 1161.6,504.3 1162.0,504.8 1162.3,503.7 1162.7,504.2 1163.1,503.1 1163.4,500.2 1163.8,505.3 1164.2,504.9 1164.6,500.0 1164.9,500.9 1165.3,489.8 1165.7,484.8 1166.0,477.8 1166.4,473.2 1166.8,465.1 1167.1,465.8 1167.5,474.4 1167.9,480.1 1168.3,489.5 1168.6,498.6 1169.0,497.5 1169.4,495.3 1169.7,492.0 1170.1,495.6 1170.5,483.2 1170.8,486.3 1171.2,480.2 1171.6,475.8 1171.9,473.3 1172.3,460.9 1172.7,459.4 1173.1,453.0 1173.4,446.4 1173.8,437.6 1174.2,441.7 1174.5,452.2 1174.9,466.4 1175.3,487.4 1175.6,503.7 1176.0,513.4 1176.4,519.6 1176.8,518.5 1177.1,526.9 1177.5,513.5 1177.9,521.2 1178.2,514.6 1178.6,511.6 1179.0,518.0 1179.3,518.3 1179.7,519.7 1180.1,517.7 1180.4,510.6 1180.8,519.1 1181.2,517.8 1181.6,515.2 1181.9,517.8 1182.3,516.3 1182.7,523.9 1183.0,517.9 1183.4,512.2 1183.8,523.0 1184.1,522.2 1184.5,519.7 1184.9,517.6 1185.2,518.7 1185.6,515.1 1186.0,521.6 1186.4,515.8 1186.7,520.6 1187.1,521.9 1187.5,515.6 1187.8,517.6 1188.2,518.5 1188.6,519.2 1188.9,520.6 1189.3,515.7 1189.7,520.3 1190.1,519.4 1190.4,518.6 1190.8,511.4 1191.2,509.2 1191.5,514.6 1191.9,513.4 1192.3,513.9 1192.6,514.1 1193.0,507.9 1193.4,511.0 1193.7,519.7 1194.1,515.0 1194.5,504.2 1194.9,502.8 1195.2,506.5 1195.6,502.7 1196.0,495.4 1196.3,493.5 1196.7,496.3 1197.1,499.3 1197.4,506.0 1197.8,513.1 1198.2,518.6 1198.5,515.9 1198.9,511.4 1199.3,522.0 1199.7,515.7 1200.0,520.3 1200.4,519.9 1200.8,523.8 1201.1,513.1 1201.5,519.4 1201.9,511.8 1202.2,523.3 1202.6,518.9 1203.0,520.9 1203.4,517.5 1203.7,518.0 1204.1,517.8 1204.5,513.5 1204.8,514.4 1205.2,520.1 1205.6,518.1 1205.9,518.5 1206.3,521.4 1206.7,519.2 1207.0,520.3 1207.4,518.5 1207.8,520.1 1208.2,516.3 1208.5,515.1 1208.9,523.4 1209.3,517.1 1209.6,517.3 1210.0,514.7 1210.4,518.6 1210.7,514.4 1211.1,510.5 1211.5,515.6 1211.9,517.9 1212.2,515.0 1212.6,513.3 1213.0,513.3 1213.3,513.8 1213.7,514.1 1214.1,512.2 1214.4,513.7 1214.8,517.7 1215.2,509.9 1215.5,506.8 1215.9,515.1 1216.3,508.0 1216.7,507.7 1217.0,510.7 1217.4,513.5 1217.8,513.1 1218.1,514.6 1218.5,507.5 1218.9,502.8 1219.2,514.4 1219.6,503.4 1220.0,507.1 1220.3,507.9 1220.7,500.8 1221.1,498.4 1221.5,498.4 1221.8,497.7 1222.2,495.7 1222.6,491.1 1222.9,488.6 1223.3,482.9 1223.7,482.0 1224.0,479.8 1224.4,472.5 1224.8,467.8 1225.2,463.5 1225.5,457.4 1225.9,458.7 1226.3,463.8 1226.6,478.1 1227.0,490.1 1227.4,496.4 1227.7,500.4 1228.1,504.1 1228.5,501.5 1228.8,502.3 1229.2,499.3 1229.6,497.2 1230.0,497.0 1230.3,498.0 1230.7,493.7 1231.1,501.6 1231.4,499.6 1231.8,490.4 1232.2,488.5 1232.5,491.0 1232.9,489.5 1233.3,486.2 1233.7,481.2 1234.0,481.9 1234.4,473.2 1234.8,476.2 1235.1,472.2 1235.5,469.6 1235.9,464.7 1236.2,459.0 1236.6,453.0 1237.0,447.3 1237.3,442.1 1237.7,434.8 1238.1,437.1 1238.5,447.8 1238.8,458.0 1239.2,475.1 1239.6,485.4 1239.9,493.7 1240.3,492.2 1240.7,495.1 1241.0,499.4 1241.4,497.9 1241.8,496.5 1242.1,498.3 1242.5,498.3 1242.9,499.8 1243.3,505.7 1243.6,505.5 1244.0,501.5 1244.4,502.5 1244.7,506.8 1245.1,511.6 1245.5,503.8 1245.8,505.8 1246.2,508.3 1246.6,506.2 1247.0,508.8 1247.3,509.5 1247.7,510.1 1248.1,505.8 1248.4,507.4 1248.8,513.0 1249.2,515.8 1249.5,510.3 1249.9,515.0 1250.3,508.4 1250.6,512.5 1251.0,512.4 1251.4,512.2 1251.8,510.8 1252.1,512.7 1252.5,518.7 1252.9,518.1 1253.2,511.0 1253.6,514.4 1254.0,515.2 1254.3,513.3 1254.7,516.9 1255.1,521.5 1255.4,515.5 1255.8,512.1 1256.2,516.5 1256.6,517.7 1256.9,521.5 1257.3,517.0 1257.7,519.4 1258.0,523.2 1258.4,514.7 1258.8,520.0 1259.1,518.4 1259.5,517.7 1259.9,520.0 1260.3,520.5 1260.6,522.7 1261.0,523.9 1261.4,526.1 1261.7,518.2 1262.1,520.4 1262.5,521.4 1262.8,525.3 1263.2,521.1 1263.6,524.2 1263.9,529.0 1264.3,521.5 1264.7,527.6 1265.1,519.9 1265.4,514.3 1265.8,526.0 1266.2,519.7 1266.5,523.0 1266.9,520.8 1267.3,520.1 1267.6,514.7 1268.0,512.3 1268.4,516.9 1268.8,511.7 1269.1,510.2 1269.5,512.0 1269.9,517.1 1270.2,506.4 1270.6,502.7 1271.0,502.4 1271.3,502.9 1271.7,490.5 1272.1,486.5 1272.4,485.2 1272.8,476.1 1273.2,475.7 1273.6,466.7 1273.9,460.2 1274.3,452.9 1274.7,456.6 1275.0,467.1 1275.4,481.6 1275.8,499.9 1276.1,517.5 1276.5,526.1 1276.9,529.3 1277.2,528.8 1277.6,524.9 1278.0,535.0 1278.4,531.3 1278.7,533.5 1279.1,530.4 1279.5,535.3 1279.8,529.8 1280.2,536.1 1280.6,535.1 1280.9,530.0 1281.3,533.7 1281.7,533.8 1282.1,534.1 1282.4,542.4 1282.8,535.0 1283.2,531.8 1283.5,531.0 1283.9,529.8 1284.3,529.6 1284.6,536.8 1285.0,534.8 1285.4,534.7 1285.7,539.5 1286.1,540.3 1286.5,533.2 1286.9,538.3 1287.2,546.6 1287.6,530.4 1288.0,534.1 1288.3,537.6 1288.7,529.3 1289.1,534.6 1289.4,539.6 1289.8,531.1 1290.2,533.8 1290.5,538.1 1290.9,529.1 1291.3,528.0 1291.7,527.7 1292.0,528.6 1292.4,534.4 1292.8,535.9 1293.1,524.0 1293.5,529.9 1293.9,530.6 1294.2,529.8 1294.6,529.0 1295.0,530.5 1295.4,527.7 1295.7,533.1 1296.1,528.5 1296.5,526.8 1296.8,528.5 1297.2,525.9 1297.6,535.6 1297.9,532.4 1298.3,533.2 1298.7,526.4 1299.0,522.2 1299.4,526.8 1299.8,526.3 1300.2,521.4 1300.5,524.0 1300.9,522.1 1301.3,522.1 1301.6,525.4 1302.0,535.7 1302.4,527.6 1302.7,527.9 1303.1,530.8 1303.5,539.4 1303.9,531.7 1304.2,536.5 1304.6,536.9 1305.0,542.7 1305.3,540.3 1305.7,545.8 1306.1,550.0 1306.4,542.7 1306.8,534.8 1307.2,548.6 1307.5,541.4 1307.9,550.6 1308.3,553.2 1308.7,553.0 1309.0,549.1 1309.4,543.6 1309.8,542.3 1310.1,546.2 1310.5,548.1 1310.9,547.1 1311.2,541.1 1311.6,550.9 1312.0,555.7 1312.3,548.6 1312.7,546.5 1313.1,550.5 1313.5,553.8 1313.8,548.0 1314.2,552.0 1314.6,554.1 1314.9,555.0 1315.3,541.7 1315.7,553.7 1316.0,554.7 1316.4,558.7 1316.8,555.0 1317.2,550.9 1317.5,556.3 1317.9,559.3 1318.3,564.9 1318.6,547.5 1319.0,562.6 1319.4,550.7 1319.7,558.4 1320.1,542.8 1320.5,564.1 1320.8,560.4 1321.2,556.3 1321.6,549.4 1322.0,553.7 1322.3,554.5 1322.7,553.6 1323.1,542.5 1323.4,542.5 1323.8,558.4 1324.2,541.8 1324.5,546.4 1324.9,542.5 1325.3,555.5 1325.6,549.8 1326.0,558.4 1326.4,555.1 1326.8,557.0 1327.1,564.6 1327.5,556.4 1327.9,558.0 1328.2,555.0 1328.6,565.5 1329.0,571.0 1329.3,563.6 1329.7,558.5 1330.1,555.5 1330.5,562.9 1330.8,559.5 1331.2,574.0 1331.6,567.1 1331.9,557.2 1332.3,549.9 1332.7,562.6 1333.0,546.1 1333.4,556.6 1333.8,564.5 1334.1,553.8 1334.5,555.2 1334.9,554.3 1335.3,551.6 1335.6,546.2 1336.0,547.1 1336.4,545.3 1336.7,550.1 1337.1,543.2 1337.5,540.6 1337.8,527.9 1338.2,536.3 1338.6,516.5 1339.0,515.3 1339.3,511.8 1339.7,512.5 1340.1,525.0 1340.4,533.0 1340.8,556.1 1341.2,559.4 1341.5,575.5 1341.9,579.5 1342.3,592.3 1342.6,576.4 1343.0,563.5 1343.4,583.3 1343.8,570.6 1344.1,592.4 1344.5,594.9 1344.9,577.0 1345.2,582.4 1345.6,581.2 1346.0,577.7 1346.3,580.4 1346.7,571.4 1347.1,578.2 1347.4,576.0 1347.8,586.2 1348.2,598.8 1348.6,576.4 1348.9,583.9 1349.3,572.0 1349.7,581.9 1350.0,591.3 1350.4,582.6 1350.8,583.3 1351.1,587.0 1351.5,598.6 1351.9,586.7 1352.3,587.3 1352.6,593.7 1353.0,590.7 1353.4,584.0 1353.7,578.8 1354.1,592.2 1354.5,586.2 1354.8,580.2 1355.2,576.6 1355.6,605.3 1355.9,585.4 1356.3,579.0 1356.7,575.4 1357.1,588.9 1357.4,584.7 1357.8,583.1 1358.2,588.3 1358.5,578.9 1358.9,580.9 1359.3,578.3 1359.6,592.0 1360.0,589.6 1360.4,596.8 1360.7,591.3 1361.1,576.8 1361.5,576.8 1361.9,572.5 1362.2,574.9 1362.6,571.8 1363.0,579.5 1363.3,574.2 1363.7,579.0 1364.1,578.1 1364.4,573.3 1364.8,583.1 1365.2,579.1 1365.6,588.2 1365.9,581.8 1366.3,606.4 1366.7,586.3 1367.0,583.0 1367.4,585.2 1367.8,603.3 1368.1,580.2 1368.5,592.9 1368.9,588.8 1369.2,588.6 1369.6,606.4 1370.0,590.3 1370.4,584.5 1370.7,594.4 1371.1,594.9 1371.5,586.0 1371.8,585.0 1372.2,587.6 1372.6,579.2 1372.9,584.2 1373.3,610.3 1373.7,604.1 1374.1,589.0 1374.4,597.4 1374.8,597.0 1375.2,588.2 1375.5,597.1 1375.9,580.8 1376.3,591.3 1376.6,603.7 1377.0,580.1 1377.4,593.9 1377.7,588.0 1378.1,592.2 1378.5,577.7 1378.9,576.7 1379.2,576.9 1379.6,572.6 1380.0,568.7 1380.3,566.0 1380.7,561.2 1381.1,560.1 1381.4,555.0 1381.8,554.9 1382.2,538.9 1382.5,546.0 1382.9,537.3 1383.3,532.8 1383.7,526.3 1384.0,520.4 1384.4,519.7 1384.8,512.7 1385.1,506.3 1385.5,504.1 1385.9,494.4 1386.2,489.4 1386.6,480.7 1387.0,481.5 1387.4,471.0 1387.7,460.1 1388.1,460.9 1388.5,454.1 1388.8,446.1 1389.2,438.7 1389.6,432.3 1389.9,426.1 1390.3,419.8 1390.7,413.8 1391.0,408.2 1391.4,400.8 1391.8,393.4 1392.2,396.1 1392.5,404.2 1392.9,424.4 1393.3,452.8 1393.6,474.8 1394.0,494.9 1394.4,500.4 1394.7,499.0 1395.1,489.2 1395.5,480.1 1395.8,471.4 1396.2,462.9 1396.6,453.6 1397.0,446.7 1397.3,449.0 1397.7,461.2 1398.1,474.6 1398.4,493.1 1398.8,521.6 1399.2,540.9 1399.5,552.0 1399.9,547.2 1400.3,555.6 1400.7,565.1 1401.0,562.8 1401.4,559.2 1401.8,559.8 1402.1,574.3 1402.5,588.5 1402.9,584.1 1403.2,586.3 1403.6,611.5 1404.0,603.9 1404.3,611.1 1404.7,627.2 1405.1,631.4 1405.5,622.1 1405.8,649.5 1406.2,644.0 1406.6,645.2 1406.9,621.3 1407.3,624.6 1407.7,613.0 1408.0,645.6 1408.4,639.6 1408.8,646.2 1409.2,629.1 1409.5,635.7 1409.9,633.8 1410.3,634.3 1410.6,627.1 1411.0,616.7 1411.4,627.1 1411.7,640.0 1412.1,642.3 1412.5,639.7 1412.8,633.2 1413.2,635.6 1413.6,638.7 1414.0,637.1 1414.3,630.0 1414.7,640.9 1415.1,619.5 1415.4,650.8 1415.8,611.2 1416.2,606.0 1416.5,611.1 1416.9,617.8 1417.3,627.9 1417.6,598.1 1418.0,614.3 1418.4,601.8 1418.8,591.8 1419.1,588.1 1419.5,573.1 1419.9,563.4 1420.2,584.1 1420.6,571.9 1421.0,569.7 1421.3,565.0 1421.7,552.2 1422.1,560.0 1422.5,547.3 1422.8,543.4 1423.2,538.2 1423.6,526.9 1423.9,522.6 1424.3,518.3 1424.7,512.0 1425.0,507.3 1425.4,507.6 1425.8,498.5 1426.1,500.7 1426.5,510.6 1426.9,526.4 1427.3,565.1 1427.6,591.6 1428.0,592.7 1428.4,628.7 1428.7,620.2 1429.1,635.3 1429.5,611.8 1429.8,614.0 1430.2,611.3 1430.6,623.4 1430.9,617.3 1431.3,621.8 1431.7,616.6 1432.1,600.7 1432.4,611.6 1432.8,617.4 1433.2,604.9 1433.5,598.7 1433.9,608.6 1434.3,598.5 1434.6,611.1 1435.0,592.2 1435.4,599.2 1435.8,580.1 1436.1,577.4 1436.5,584.5 1436.9,575.3 1437.2,572.3 1437.6,563.2 1438.0,568.6 1438.3,565.5 1438.7,552.4 1439.1,552.2 1439.4,547.9 1439.8,540.3 1440.2,534.2 1440.6,534.4 1440.9,530.9 1441.3,515.6 1441.7,514.5 1442.0,505.0 1442.4,507.0 1442.8,520.7 1443.1,537.6 1443.5,561.5 1443.9,576.4 1444.3,601.0 1444.6,616.1 1445.0,615.1 1445.4,628.4 1445.7,634.8 1446.1,641.7 1446.5,639.2 1446.8,646.5 1447.2,653.7 1447.6,667.4 1447.9,659.4 1448.3,652.4 1448.7,630.7 1449.1,631.6 1449.4,646.8 1449.8,639.2 1450.2,655.2 1450.5,640.4 1450.9,660.5 1451.3,648.6 1451.6,635.8 1452.0,645.0 1452.4,650.1 1452.7,649.3 1453.1,640.5 1453.5,614.2 1453.9,656.6 1454.2,639.9 1454.6,649.3 1455.0,645.4 1455.3,647.1 1455.7,651.9 1456.1,651.1 1456.4,653.2 1456.8,648.5 1457.2,643.3 1457.6,653.1 1457.9,665.2 1458.3,643.0 1458.7,663.4 1459.0,650.4 1459.4,646.7 1459.8,667.2 1460.1,640.8 1460.5,625.6 1460.9,639.6 1461.2,684.9 1461.6,644.0 1462.0,628.6 1462.4,637.3 1462.7,659.5 1463.1,655.6 1463.5,665.3 1463.8,645.8 1464.2,662.7 1464.6,699.6 1464.9,650.2 1465.3,631.8 1465.7,653.2 1466.0,693.0 1466.4,667.2 1466.8,670.9 1467.2,649.4 1467.5,677.1 1467.9,670.0 1468.3,638.7 1468.6,665.7 1469.0,697.3 1469.4,652.2 1469.7,660.2 1470.1,658.2 1470.5,659.9 1470.9,652.0 1471.2,636.9 1471.6,640.4 1472.0,651.3 1472.3,662.2 1472.7,640.1 1473.1,658.0 1473.4,662.9 1473.8,669.9 1474.2,675.7 1474.5,663.3 1474.9,663.0 1475.3,671.2 1475.7,658.3 1476.0,657.4 1476.4,652.8 1476.8,657.7 1477.1,649.4 1477.5,678.8 1477.9,653.0 1478.2,643.9 1478.6,668.7 1479.0,683.8 1479.4,646.1 1479.7,645.1 1480.1,669.9 1480.5,653.6 1480.8,632.1 1481.2,724.9 1481.6,651.7 1481.9,676.8 1482.3,704.5 1482.7,698.8 1483.0,664.7 1483.4,653.8 1483.8,666.5 1484.2,703.5 1484.5,660.1 1484.9,667.1 1485.3,672.9 1485.6,677.9 1486.0,681.9 1486.4,676.0 1486.7,653.1 1487.1,664.0 1487.5,658.9 1487.8,709.6 1488.2,693.2 1488.6,678.8 1489.0,687.7 1489.3,674.7 1489.7,675.2 1490.1,668.1 1490.4,679.8 1490.8,691.6 1491.2,660.0 1491.5,671.7 1491.9,689.7 1492.3,677.5 1492.7,675.6 1493.0,675.6 1493.4,659.1 1493.8,653.7 1494.1,696.5 1494.5,652.5 1494.9,684.2 1495.2,693.5 1495.6,658.3 1496.0,643.1 1496.3,655.9 1496.7,646.3 1497.1,676.2 1497.5,680.3 1497.8,691.7 1498.2,656.9 1498.6,676.5 1498.9,655.5 1499.3,654.3 1499.7,660.5 1500.0,653.1 1500.4,662.4 1500.8,640.9 1501.1,635.7 1501.5,668.7 1501.9,658.4 1502.3,643.6 1502.6,627.0 1503.0,645.5 1503.4,618.2 1503.7,609.3 1504.1,619.8 1504.5,616.0 1504.8,631.1 1505.2,614.5 1505.6,612.5 1506.0,603.3 1506.3,610.3 1506.7,598.5 1507.1,575.3 1507.4,580.7 1507.8,579.0 1508.2,569.7 1508.5,570.4 1508.9,589.7 1509.3,606.2 1509.6,619.6 1510.0,616.7 1510.4,639.0 1510.8,667.8 1511.1,670.9 1511.5,672.1 1511.9,688.8 1512.2,667.0 1512.6,671.7 1513.0,686.3 1513.3,693.6 1513.7,699.0 1514.1,667.8 1514.5,669.5 1514.8,669.6 1515.2,673.4 1515.6,721.3 1515.9,671.5 1516.3,679.2 1516.7,688.7 1517.0,662.3 1517.4,685.8 1517.8,680.5 1518.1,668.8 1518.5,654.8 1518.9,667.9 1519.3,665.1 1519.6,651.6 1520.0,696.2 1520.4,692.1 1520.7,673.9 1521.1,681.7 1521.5,663.1 1521.8,669.0 1522.2,691.0 1522.6,676.4 1522.9,689.5 1523.3,686.4 1523.7,659.0 1524.1,714.0 1524.4,730.9 1524.8,705.1 1525.2,647.8 1525.5,665.0 1525.9,678.6 1526.3,660.4 1526.6,665.0 1527.0,676.7 1527.4,667.0 1527.8,663.9 1528.1,670.6 1528.5,691.9 1528.9,689.6 1529.2,668.5 1529.6,656.0 1530.0,702.9 1530.3,665.3 1530.7,668.2 1531.1,679.3 1531.4,658.7 1531.8,661.5 1532.2,677.8 1532.6,682.5 1532.9,679.4 1533.3,673.2 1533.7,699.2 1534.0,668.6 1534.4,669.8 1534.8,671.9 1535.1,672.8 1535.5,667.1 1535.9,673.2 1536.3,662.2 1536.6,666.2 1537.0,692.3 1537.4,677.7 1537.7,682.2 1538.1,674.2 1538.5,674.0 1538.8,691.5 1539.2,735.8 1539.6,681.6 1539.9,697.9 1540.3,674.3 1540.7,700.0 1541.1,662.7 1541.4,679.5 1541.8,684.8 1542.2,686.3 1542.5,691.5 1542.9,701.1 1543.3,680.1 1543.6,683.5 1544.0,672.3 1544.4,686.1 1544.7,669.0 1545.1,675.5 1545.5,687.8 1545.9,680.4 1546.2,687.2 1546.6,702.2 1547.0,699.0 1547.3,675.6 1547.7,691.0 1548.1,661.0 1548.4,674.8 1548.8,674.5 1549.2,673.6 1549.6,676.5 1549.9,677.1 1550.3,696.2 1550.7,697.1 1551.0,698.9 1551.4,668.0 1551.8,693.6 1552.1,651.2 1552.5,728.3 1552.9,661.6 1553.2,686.6 1553.6,677.4 1554.0,679.5 1554.4,662.8 1554.7,678.0 1555.1,674.7 1555.5,675.9 1555.8,691.2 1556.2,701.5 1556.6,656.2 1556.9,684.1 1557.3,721.6 1557.7,674.6 1558.0,684.7 1558.4,710.7 1558.8,659.7 1559.2,701.4 1559.5,679.0 1559.9,665.3 1560.3,681.7 1560.6,728.7 1561.0,657.6 1561.4,687.2 1561.7,658.5 1562.1,675.1 1562.5,656.7 1562.9,712.4 1563.2,699.3 1563.6,657.7 1564.0,694.8 1564.3,699.8 1564.7,668.4 1565.1,688.1 1565.4,722.6 1565.8,660.9 1566.2,689.8 1566.5,687.5 1566.9,674.1 1567.3,677.3 1567.7,668.4 1568.0,682.4 1568.4,679.0 1568.8,693.4 1569.1,699.0 1569.5,699.4 1569.9,742.8 1570.2,656.3 1570.6,655.4 1571.0,692.0 1571.4,684.7 1571.7,661.7 1572.1,682.8 1572.5,671.8 1572.8,662.4 1573.2,707.8 1573.6,689.9 1573.9,673.3 1574.3,678.1 1574.7,667.1 1575.0,680.5 1575.4,660.1 1575.8,698.0 1576.2,712.5 1576.5,674.2 1576.9,666.4 1577.3,671.4 1577.6,691.1 1578.0,656.5 1578.4,663.3 1578.7,637.9 1579.1,631.1 1579.5,630.4 1579.8,635.1 1580.2,647.2 1580.6,653.5 1581.0,671.0 1581.3,672.0 1581.7,730.3 1582.1,725.3 1582.4,673.6 1582.8,710.1 1583.2,737.5 1583.5,756.5 1583.9,689.9 1584.3,666.6 1584.7,699.8 1585.0,688.3 1585.4,667.8 1585.8,741.5 1586.1,691.7 1586.5,682.8 1586.9,699.4 1587.2,679.0 1587.6,709.6 1588.0,699.5 1588.3,752.8 1588.7,683.5 1589.1,680.8 1589.5,775.4 1589.8,722.9 1590.2,683.9 1590.6,685.8 1590.9,727.0 1591.3,690.1 1591.7,704.7 1592.0,688.5 1592.4,711.7 1592.8,709.5 1593.1,823.8 1593.5,693.2 1593.9,701.8 1594.3,664.1 1594.6,695.9 1595.0,696.8 1595.4,696.9 1595.7,699.3 1596.1,735.7 1596.5,685.4 1596.8,710.1 1597.2,722.3 1597.6,759.9 1598.0,698.2 1598.3,693.0 1598.7,687.2 1599.1,677.8 1599.4,703.8 1599.8,672.3 1600.2,703.5 1600.5,711.6 1600.9,696.6 1601.3,705.9 1601.6,679.6 1602.0,732.3 1602.4,785.7 1602.8,696.2 1603.1,707.9 1603.5,696.0 1603.9,682.1 1604.2,688.8 1604.6,790.8 1605.0,705.7 1605.3,688.2 1605.7,719.6 1606.1,673.9 1606.5,678.6 1606.8,678.6 1607.2,692.1 1607.6,674.5 1607.9,669.9 1608.3,672.9 1608.7,694.4 1609.0,693.7 1609.4,688.8 1609.8,690.8 1610.1,677.6 1610.5,653.8 1610.9,680.2 1611.3,655.4 1611.6,665.6 1612.0,636.3 1612.4,656.7 1612.7,628.9 1613.1,631.4 1613.5,645.6 1613.8,642.4 1614.2,624.3 1614.6,631.4 1614.9,652.2 1615.3,667.9 1615.7,658.8 1616.1,673.7 1616.4,686.0 1616.8,698.7 1617.2,736.7 1617.5,733.2 1617.9,685.2 1618.3,692.0 1618.6,707.0 1619.0,733.1 1619.4,719.4 1619.8,699.0 1620.1,744.6 1620.5,696.9 1620.9,702.0 1621.2,709.7 1621.6,713.1 1622.0,710.2 1622.3,699.9 1622.7,737.8 1623.1,799.5 1623.4,722.4 1623.8,759.6 1624.2,683.7 1624.6,727.5 1624.9,693.4 1625.3,715.1 1625.7,685.0 1626.0,688.3 1626.4,697.2 1626.8,716.2 1627.1,681.8 1627.5,708.3 1627.9,706.6 1628.2,695.7 1628.6,767.0 1629.0,701.5 1629.4,694.0 1629.7,708.3 1630.1,694.3 1630.5,710.4 1630.8,737.7 1631.2,688.0 1631.6,709.6 1631.9,675.1 1632.3,695.1 1632.7,707.1 1633.1,722.0 1633.4,698.4 1633.8,704.1 1634.2,757.0 1634.5,719.2 1634.9,718.6 1635.3,710.9 1635.6,744.2 1636.0,693.5 1636.4,708.9 1636.7,706.7 1637.1,713.6 1637.5,759.1 1637.9,779.4 1638.2,748.2 1638.6,756.7 1639.0,667.1 1639.3,716.0 1639.7,701.0 1640.1,720.5 1640.4,687.8 1640.8,799.5 1641.2,705.1 1641.6,713.7 1641.9,709.9 1642.3,699.5 1642.7,710.9 1643.0,728.5 1643.4,687.5 1643.8,676.1 1644.1,738.2 1644.5,721.4 1644.9,711.2 1645.2,697.5 1645.6,716.6 1646.0,757.8 1646.4,691.4 1646.7,707.6 1647.1,744.1 1647.5,701.9 1647.8,736.3 1648.2,737.6 1648.6,687.7 1648.9,729.9 1649.3,778.6 1649.7,769.7 1650.0,727.6 1650.4,729.1 1650.8,735.6 1651.2,682.9 1651.5,719.5 1651.9,705.2 1652.3,734.7 1652.6,692.5 1653.0,696.8 1653.4,683.2 1653.7,723.0 1654.1,727.0 1654.5,727.6 1654.9,705.3 1655.2,692.1 1655.6,711.9 1656.0,715.5 1656.3,721.9 1656.7,706.4 1657.1,701.9 1657.4,732.5 1657.8,704.5 1658.2,682.8 1658.5,702.7 1658.9,695.0 1659.3,694.2 1659.7,709.1 1660.0,715.7 1660.4,717.5 1660.8,704.1 1661.1,683.5 1661.5,759.4 1661.9,719.1 1662.2,708.8 1662.6,701.2 1663.0,753.9 1663.3,697.9 1663.7,680.1 1664.1,709.5 1664.5,725.3 1664.8,701.3 1665.2,699.8 1665.6,689.5 1665.9,717.6 1666.3,817.6"/>
<text class="tt" y="50.4"><tspan x="570.4" textLength="66.7" lengthAdjust="spacingAndGlyphs">SCR</tspan> <tspan x="647.2" textLength="269.3" lengthAdjust="spacingAndGlyphs">Measurements,</tspan> <tspan x="928.5" textLength="67.5" lengthAdjust="spacingAndGlyphs">first</tspan> <tspan x="1004.5" textLength="22.6" lengthAdjust="spacingAndGlyphs">4</tspan> <tspan x="1039.1" textLength="96.7" lengthAdjust="spacingAndGlyphs">hours</tspan></text>
<text class="tl" x="137.4" y="90.3" text-anchor="end" textLength="84.4" lengthAdjust="spacingAndGlyphs">10000000</text>
<text class="tl" x="137.4" y="196.3" text-anchor="end" textLength="73.8" lengthAdjust="spacingAndGlyphs">1000000</text>
<text class="tl" x="137.4" y="302.3" text-anchor="end" textLength="63.2" lengthAdjust="spacingAndGlyphs">100000</text>
<text class="tl" x="137.4" y="408.3" text-anchor="end" textLength="52.6" lengthAdjust="spacingAndGlyphs">10000</text>
<text class="tl" x="137.4" y="514.3" text-anchor="end" textLength="42.0" lengthAdjust="spacingAndGlyphs">1000</text>
<text class="tl" x="137.4" y="620.3" text-anchor="end" textLength="31.4" lengthAdjust="spacingAndGlyphs">100</text>
<text class="tl" x="137.4" y="726.3" text-anchor="end" textLength="20.8" lengthAdjust="spacingAndGlyphs">10</text>
<text class="tl" x="137.4" y="832.3" text-anchor="end" textLength="10.2" lengthAdjust="spacingAndGlyphs">1</text>
<text class="tl" x="157.0" y="859.6" text-anchor="middle" textLength="9.6" lengthAdjust="spacingAndGlyphs">0</text>
<text class="tl" x="459.6" y="859.6" text-anchor="middle" textLength="30.8" lengthAdjust="spacingAndGlyphs">500</text>
<text class="tl" x="762.2" y="859.6" text-anchor="middle" textLength="41.4" lengthAdjust="spacingAndGlyphs">1000</text>
<text class="tl" x="1064.8" y="859.6" text-anchor="middle" textLength="41.4" lengthAdjust="spacingAndGlyphs">1500</text>
<text class="tl" x="1367.4" y="859.6" text-anchor="middle" textLength="41.4" lengthAdjust="spacingAndGlyphs">2000</text>
<text class="tl" x="1670.0" y="859.6" text-anchor="middle" textLength="41.4" lengthAdjust="spacingAndGlyphs">2500</text>
<text class="at" x="913.3" y="893.4" text-anchor="middle" textLength="120" lengthAdjust="spacingAndGlyphs">Energy (keV)</text>
<text class="at" transform="translate(40.6 539.7) rotate(-90)"><tspan x="0.0" textLength="69.7" lengthAdjust="spacingAndGlyphs">Counts</tspan> <tspan x="73.6" textLength="17.1" lengthAdjust="spacingAndGlyphs">in</tspan> <tspan x="96.7" textLength="12.7" lengthAdjust="spacingAndGlyphs">4</tspan> <tspan x="114.6" textLength="55.6" lengthAdjust="spacingAndGlyphs">hours</tspan></text>
</svg></body></html>
